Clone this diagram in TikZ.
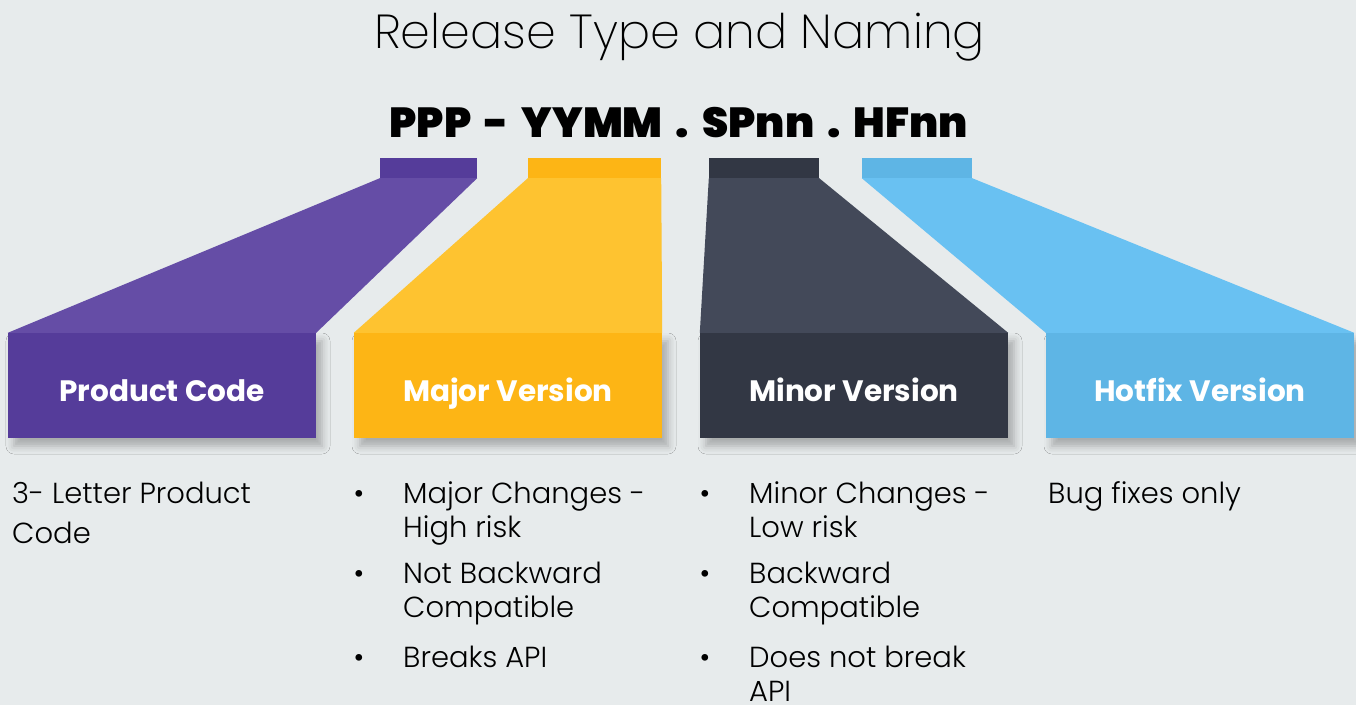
\documentclass[tikz,border=0pt]{standalone}
\usepackage{fontspec}
\setmainfont{Poppins}
\newfontfamily\titlefont{Poppins ExtraLight}
\newfontfamily\lightfont{Poppins Light}
\newfontfamily\heavyfont{Poppins Black}
\usetikzlibrary{shadows.blur}

\definecolor{bgcol}{HTML}{E7EBEC}
\definecolor{purpbox}{HTML}{553C9A}
\definecolor{purptrap}{HTML}{654DA6}
\definecolor{yellbox}{HTML}{FDB515}
\definecolor{yelltrap}{HTML}{FEC330}
\definecolor{darkbox}{HTML}{323744}
\definecolor{darktrap}{HTML}{434959}
\definecolor{bluebox}{HTML}{5EB5E5}
\definecolor{bluetrap}{HTML}{69C1F2}

\newcommand{\patgap}{\hspace{0.31em}}

\tikzset{
  tab/.style={inner sep=0pt, minimum height=20pt},
  box/.style={inner sep=0pt, minimum width=308pt, minimum height=105pt,
    blur shadow={shadow xshift=6pt, shadow yshift=-8pt, shadow blur radius=8pt, shadow opacity=28}},
  boxlabel/.style={anchor=base, inner sep=0pt, text=white, font=\fontsize{29.5}{34}\selectfont\bfseries},
  bodytext/.style={anchor=base west, inner sep=0pt, align=left, font=\lightfont\fontsize{29}{34.5}\selectfont},
  bullet/.style={anchor=base, inner sep=0pt, font=\lightfont\fontsize{29}{34.5}\selectfont},
}

\begin{document}
\begin{tikzpicture}[x=1pt,y=-1pt]
  % background and page size
  \fill[bgcol] (0,0) rectangle (1356,705);
  \useasboundingbox (0,0) rectangle (1356,705);

  % Title and naming pattern
  \node[anchor=base, inner sep=0pt, font=\titlefont\fontsize{47.7}{56}\selectfont] (title) at (679.5,48) {Release Type and Naming};
  \node[anchor=base, inner sep=0pt, font=\heavyfont\fontsize{42}{50}\selectfont] (pattern) at (679,137)
    {PPP\patgap-\patgap YYMM\patgap.\patgap SPnn\patgap.\patgap HFnn};

  % Boxes (drawn first so the shadows lie underneath)
  \node[box, fill=purpbox] (pbox) at (162,385.5) {};
  \node[box, fill=yellbox] (ybox) at (508,385.5) {};
  \node[box, fill=darkbox] (dbox) at (854,385.5) {};
  \node[box, fill=bluebox] (bbox) at (1200,385.5) {};

  % Tabs under the pattern
  \node[tab, fill=purpbox, minimum width=97pt] (ptab) at (428.5,168) {};
  \node[tab, fill=yellbox, minimum width=133pt] (ytab) at (594.5,168) {};
  \node[tab, fill=darkbox, minimum width=110pt] (dtab) at (764,168) {};
  \node[tab, fill=bluebox, minimum width=110pt] (btab) at (917,168) {};

  % Funnels from tab to box
  \fill[purptrap] (ptab.south west) -- (ptab.south east) -- (pbox.north east) -- (pbox.north west) -- cycle;
  \fill[yelltrap] (ytab.south west) -- (ytab.south east) -- (ybox.north east) -- (ybox.north west) -- cycle;
  \fill[darktrap] (dtab.south west) -- (dtab.south east) -- (dbox.north east) -- (dbox.north west) -- cycle;
  \fill[bluetrap] (btab.south west) -- (btab.south east) -- (bbox.north east) -- (bbox.north west) -- cycle;

  % Box labels
  \node[boxlabel] (plabel) at ([yshift=-16pt]pbox.center) {Product Code};
  \node[boxlabel] (ylabel) at ([yshift=-16pt]ybox.center) {Major Version};
  \node[boxlabel] (dlabel) at ([yshift=-16pt]dbox.center) {Minor Version};
  \node[boxlabel] (blabel) at ([yshift=-16pt]bbox.center) {Hotfix Version};

  % Product code text (base = last line)
  \node[bodytext] (ptext) at (12,543) {3- Letter Product\\[5.5pt]Code};

  % Major version bullets
  \foreach \y in {503,583,667}
    \node[bullet] (ybul\y) at (359,\y) {•};
  \node[bodytext] (ytext1) at (403,537.5) {Major Changes -\\High risk};
  \node[bodytext] (ytext2) at (403,617.5) {Not Backward\\Compatible};
  \node[bodytext] (ytext3) at (403,667) {Breaks API};

  % Minor version bullets
  \foreach \y in {503,583,667}
    \node[bullet] (dbul\y) at (705,\y) {•};
  \node[bodytext] (dtext1) at (749,537.5) {Minor Changes -\\Low risk};
  \node[bodytext] (dtext2) at (749,617.5) {Backward\\Compatible};
  \node[bodytext] (dtext3) at (749,701.5) {Does not break\\API};

  % Hotfix text
  \node[bodytext] (btext) at (1048,503) {Bug fixes only};
\end{tikzpicture}
\end{document}
